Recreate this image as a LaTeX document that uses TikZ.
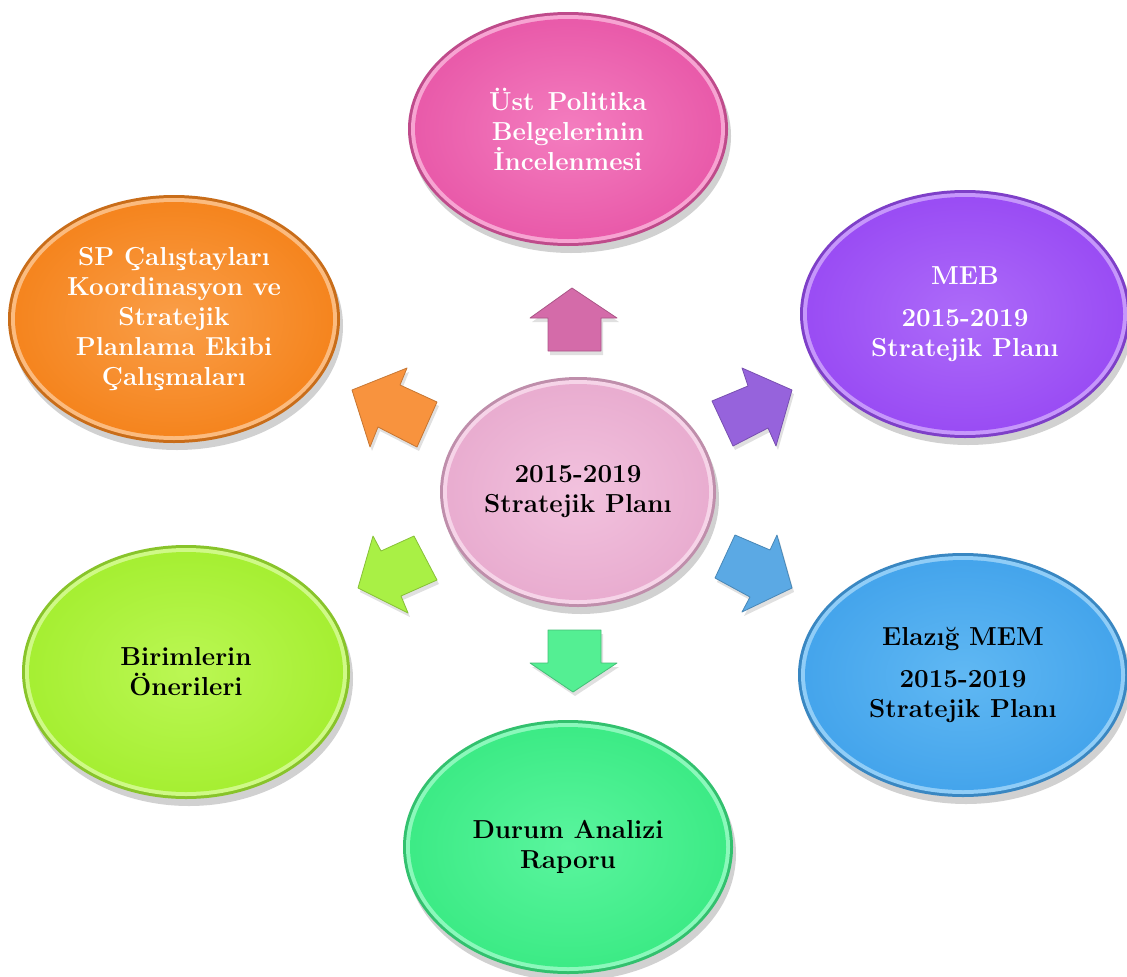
\documentclass[tikz,border=0pt]{standalone}
\usepackage{fontspec}
\usetikzlibrary{shapes.geometric}
\definecolor{topc}{HTML}{E95BAA}\definecolor{topl}{HTML}{F47DBF}
\definecolor{orac}{HTML}{F5851F}\definecolor{oral}{HTML}{FA9E48}
\definecolor{purc}{HTML}{9A4DF4}\definecolor{purl}{HTML}{AD6BF9}
\definecolor{bluc}{HTML}{45A5EC}\definecolor{blul}{HTML}{60B8F3}
\definecolor{limc}{HTML}{A6EF33}\definecolor{liml}{HTML}{BBF754}
\definecolor{grnc}{HTML}{3DEB86}\definecolor{grnl}{HTML}{5AF59E}
\definecolor{cenc}{HTML}{E9ADD0}\definecolor{cenl}{HTML}{F2C2DE}
\definecolor{arP}{HTML}{D46BA9}\definecolor{arO}{HTML}{F8933E}
\definecolor{arU}{HTML}{9663DC}\definecolor{arL}{HTML}{A9F045}
\definecolor{arB}{HTML}{5BA9E4}\definecolor{arG}{HTML}{54EF93}
\tikzset{
  blobtext/.style={shape=ellipse, inner sep=0pt, align=center,
    font=\fontsize{26}{30}\selectfont\bfseries},
  blockarrow/.style={fill=#1, draw=#1!80!black, line width=0.8pt, line join=round},
  arrowshadow/.style={fill=black, opacity=0.12}
}
% name, cx, cy, rx, ry, base colour, light colour, text colour, text
\newcommand{\ovalblob}[9]{%
  \fill[black, opacity=0.18] ({#2+3},{#3+7}) ellipse [x radius=#4, y radius=#5];
  \fill[#6!82!black] (#2,#3) ellipse [x radius=#4, y radius=#5];
  \fill[#7!70!white] (#2,#3) ellipse [x radius={#4-3}, y radius={#5-3}];
  \fill[#6] (#2,#3) ellipse [x radius={#4-7}, y radius={#5-7}];
  \shade[inner color=#7, outer color=#6] (#2,#3) ellipse [x radius={#4-10}, y radius={#5-10}];
  \node[blobtext, text=#8, minimum width={2*#4}, minimum height={2*#5}] (#1) at (#2,#3) {#9};
}
\begin{document}
\begin{tikzpicture}[x=1pt,y=-1pt]
\useasboundingbox (0,0) rectangle (1127,977);
\fill[white] (0,0) rectangle (1127,977);

\ovalblob{top}{568}{129}{160}{117}{topc}{topl}{white}{Üst\enspace Politika\\Belgelerinin\\İncelenmesi}
\ovalblob{sp}{174}{319}{166}{124}{orac}{oral}{white}{SP Çalıştayları\\Koordinasyon ve\\Stratejik\\Planlama Ekibi\\Çalışmaları}
\ovalblob{meb}{965}{314}{165}{124}{purc}{purl}{white}{MEB\\[12pt]2015-2019\\Stratejik Planı}
\ovalblob{mem}{963}{675}{165}{122}{bluc}{blul}{black}{Elazığ MEM\\[12pt]2015-2019\\Stratejik Planı}
\ovalblob{bir}{186}{672}{164}{127}{limc}{liml}{black}{Birimlerin\\Önerileri}
\ovalblob{dur}{568}{847}{165}{127}{grnc}{grnl}{black}{Durum Analizi\\Raporu}
\ovalblob{cen}{578}{492}{138}{115}{cenc}{cenl}{black}{2015-2019\\Stratejik Planı}

% block arrows: shadows
\fill[arrowshadow] (574,292) -- (619,322) -- (603,322) -- (603,355) -- (550,355) -- (550,322) -- (532,322) -- cycle;
\fill[arrowshadow] (550,634) -- (603,634) -- (603,667) -- (619,667) -- (575,696) -- (532,667) -- (550,667) -- cycle;
\fill[arrowshadow] (354,394) -- (409,372) -- (402,389) -- (439,406) -- (419,451) -- (380,431) -- (372,451) -- cycle;
\fill[arrowshadow] (794,394) -- (744,372) -- (750,390) -- (714,405) -- (735,450) -- (770,432) -- (778,450) -- cycle;
\fill[arrowshadow] (737,539) -- (772,554) -- (779,539) -- (794,592) -- (744,616) -- (752,601) -- (717,582) -- cycle;
\fill[arrowshadow] (360,592) -- (375,540) -- (383,555) -- (416,540) -- (439,584) -- (403,600) -- (410,617) -- cycle;

% block arrows
\filldraw[blockarrow=arP] (572,288) -- (617,318) -- (601,318) -- (601,351) -- (548,351) -- (548,318) -- (530,318) -- cycle;
\filldraw[blockarrow=arG] (548,630) -- (601,630) -- (601,663) -- (617,663) -- (573,692) -- (530,663) -- (548,663) -- cycle;
\filldraw[blockarrow=arO] (352,390) -- (407,368) -- (400,385) -- (437,402) -- (417,447) -- (378,427) -- (370,447) -- cycle;
\filldraw[blockarrow=arU] (792,390) -- (742,368) -- (748,386) -- (712,401) -- (733,446) -- (768,428) -- (776,446) -- cycle;
\filldraw[blockarrow=arB] (735,535) -- (770,550) -- (777,535) -- (792,588) -- (742,612) -- (750,597) -- (715,578) -- cycle;
\filldraw[blockarrow=arL] (358,588) -- (373,536) -- (381,551) -- (414,536) -- (437,580) -- (401,596) -- (408,613) -- cycle;
\end{tikzpicture}
\end{document}
